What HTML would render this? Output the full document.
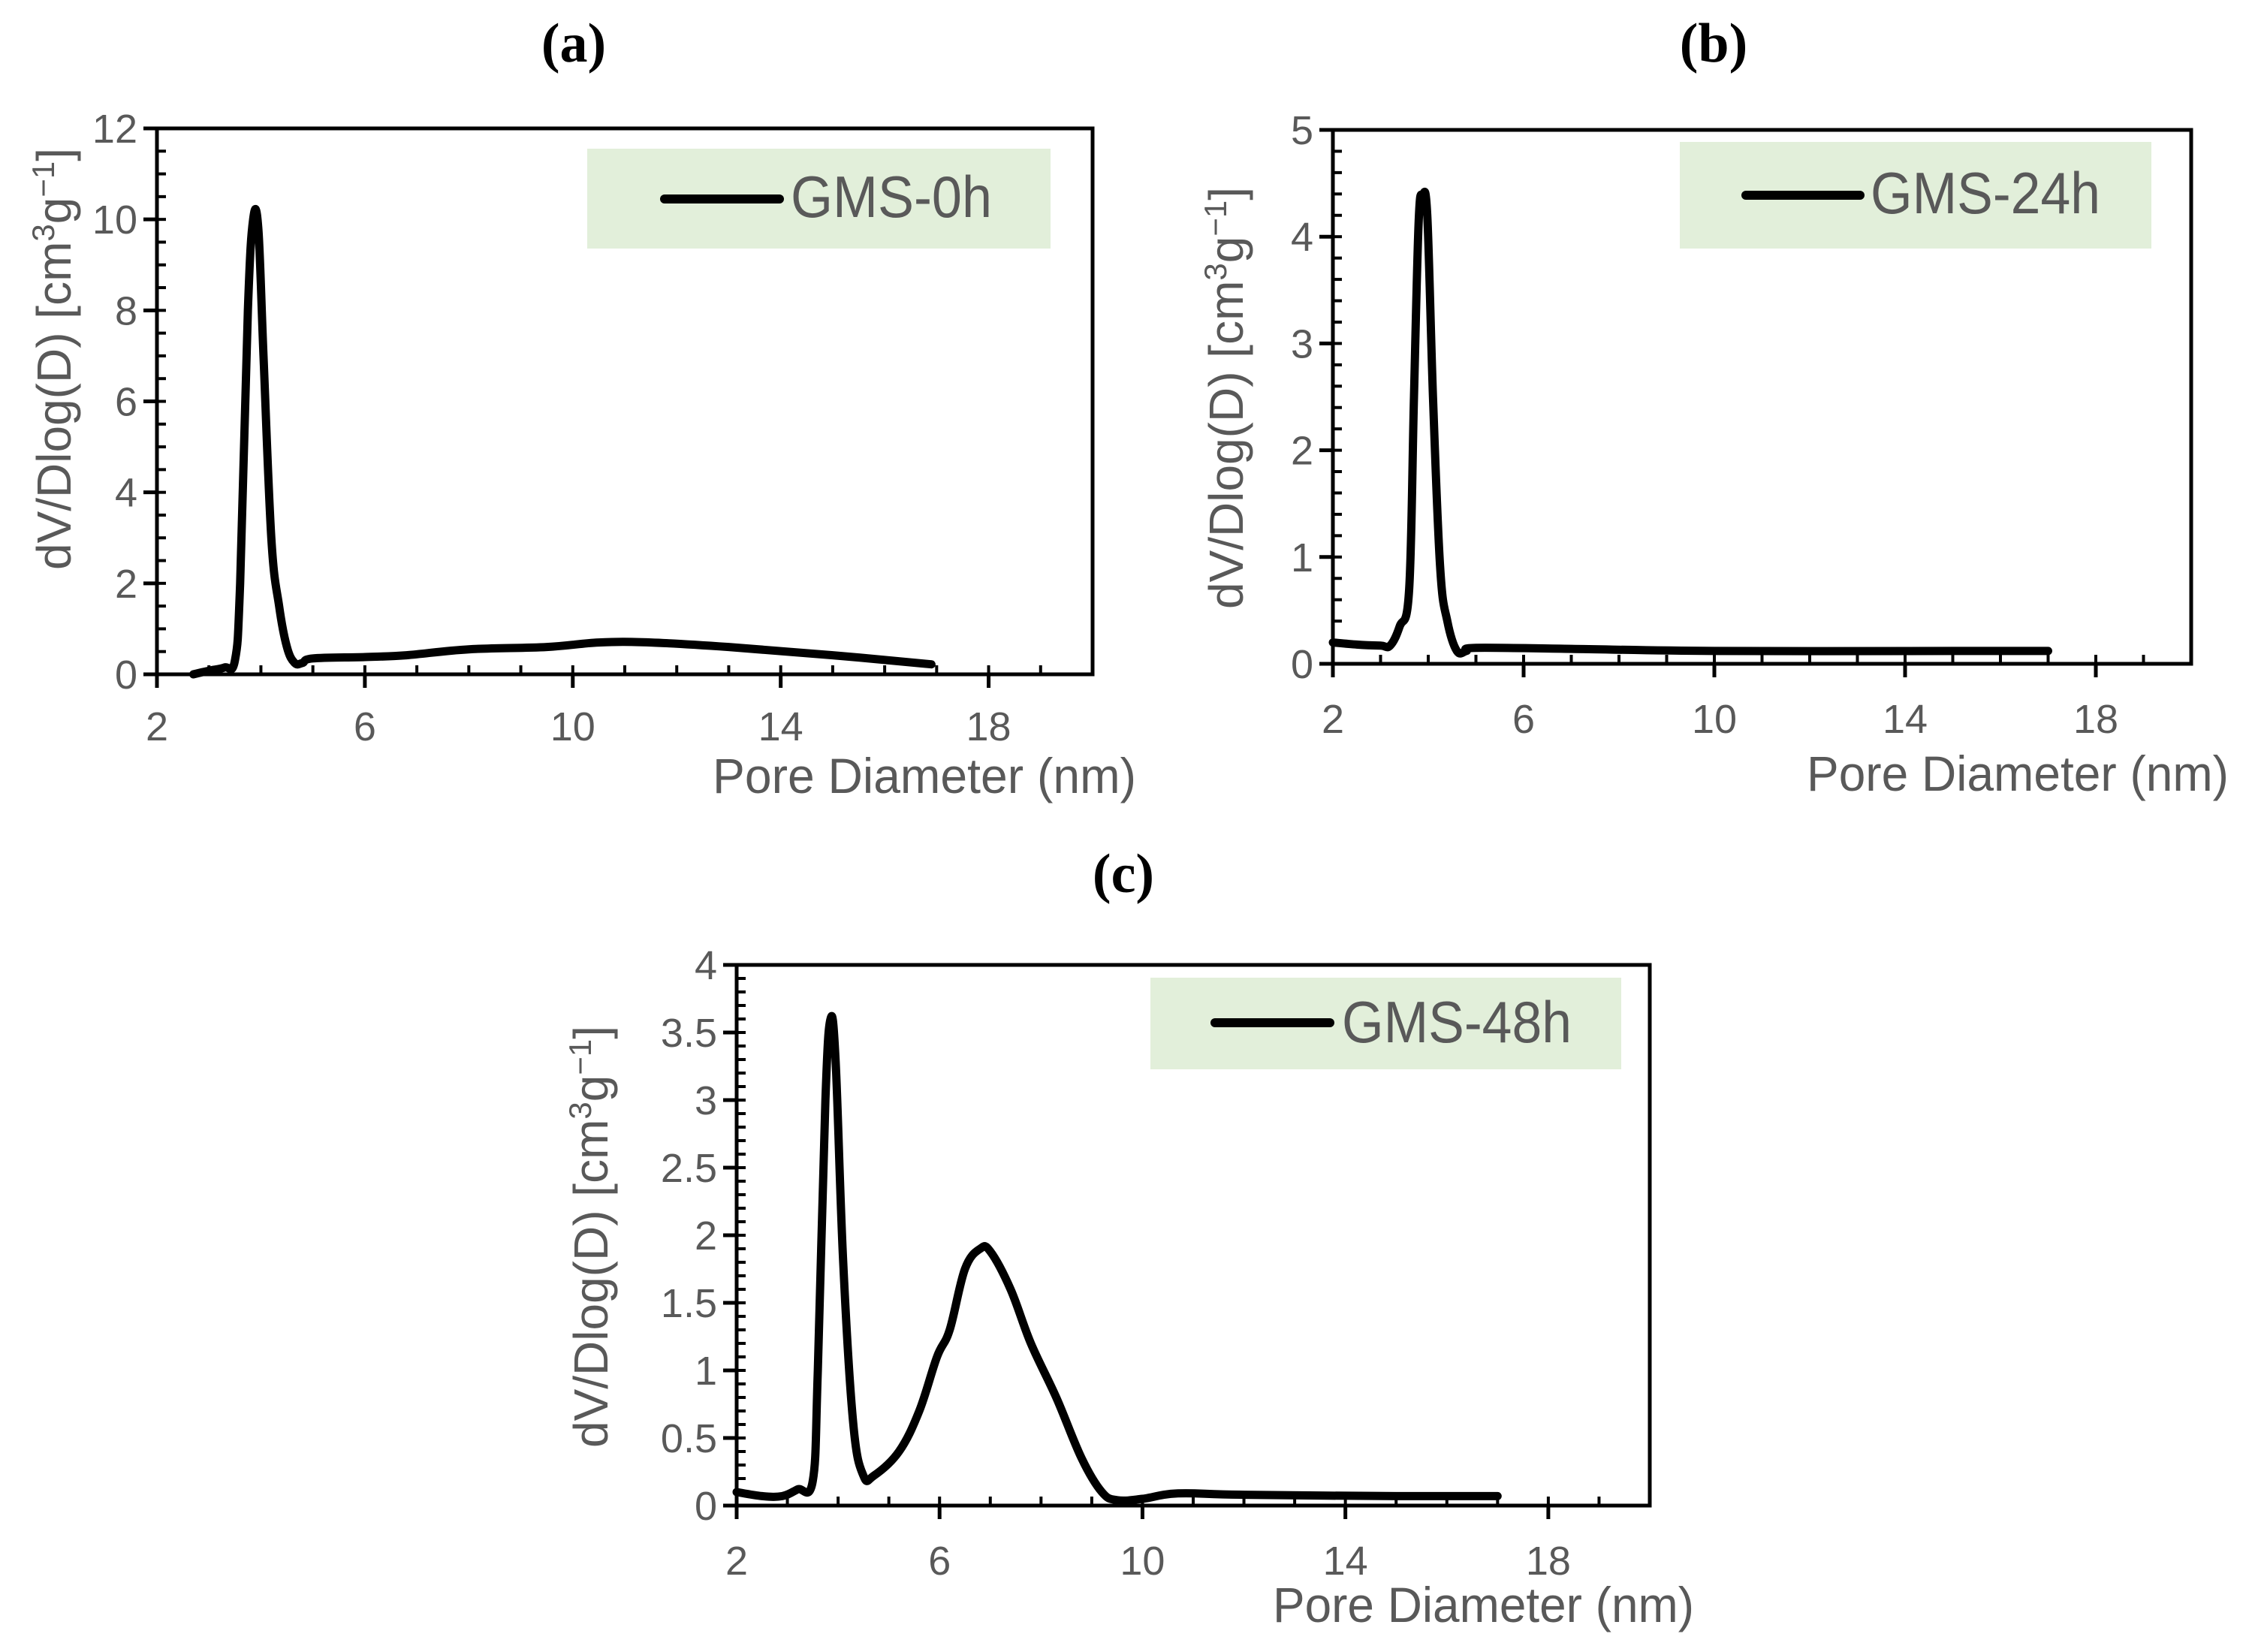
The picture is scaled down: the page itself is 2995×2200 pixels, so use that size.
<!DOCTYPE html>
<html><head><meta charset="utf-8">
<style>
html,body{margin:0;padding:0;background:#fff;}
svg{display:block;}
.tk{font-family:"Liberation Sans Narrow","Liberation Sans",sans-serif;fill:#595959;}
.pl{font-family:"Liberation Serif",serif;font-weight:bold;fill:#000;}
</style></head>
<body>
<svg id="fig" width="2995" height="2200" viewBox="0 0 2995 2200" xmlns="http://www.w3.org/2000/svg"></svg>
<script>
// ---- data ----
const xTicks = [2, 6, 10, 14, 18];
const aX = [2.7,3.0,3.3,3.5,3.6,3.75,3.85,3.95,4.05,4.2,4.35,4.5,4.65,4.8,5.0,6,6.8,8,9.5,10.5,11.5,13,15,16.9];
const aY = [0,0.08,0.15,0.3,2,8,10,9.8,7,3,1.5,0.6,0.25,0.25,0.35,0.38,0.42,0.55,0.6,0.7,0.7,0.6,0.42,0.22];
const aYTicks = [0,2,4,6,8,10,12];
const bX = [2,2.5,3.0,3.2,3.4,3.6,3.7,3.8,3.88,3.98,4.1,4.25,4.4,4.6,4.8,5,7,10,15,17];
const bY = [0.2,0.18,0.17,0.17,0.35,0.7,2.5,4.15,4.38,4.2,2.5,0.9,0.4,0.12,0.12,0.15,0.14,0.12,0.12,0.12];
const bYTicks = [0,1,2,3,4,5];
const cX = [2,2.5,2.9,3.2,3.5,3.6,3.75,3.85,3.95,4.1,4.3,4.5,4.7,5.2,5.6,5.95,6.2,6.5,6.8,7.0,7.4,7.8,8.3,8.8,9.2,9.5,10,10.7,12,15,17];
const cY = [0.1,0.07,0.07,0.12,0.18,1.0,3.0,3.6,3.3,1.8,0.6,0.22,0.22,0.4,0.7,1.1,1.3,1.75,1.9,1.88,1.6,1.2,0.8,0.35,0.1,0.04,0.05,0.09,0.08,0.07,0.07];
const cYTicks = [0,0.5,1,1.5,2,2.5,3,3.5,4];
const cYLabels = ['0','0.5','1','1.5','2','2.5','3','3.5','4'];

const NS = 'http://www.w3.org/2000/svg';
const svg = document.getElementById('fig');
function mk(tag, attrs, parent){
  const e = document.createElementNS(NS, tag);
  for (const k in attrs) e.setAttribute(k, attrs[k]);
  (parent||svg).appendChild(e);
  return e;
}
function txt(parent, s, attrs){ const t = mk('text', attrs, parent); t.textContent = s; return t; }
function smooth(pts){
  let d = 'M' + pts[0][0].toFixed(1) + ',' + pts[0][1].toFixed(1);
  const k = 0.18;
  for (let i = 0; i < pts.length - 1; i++) {
    const p0 = pts[Math.max(0, i-1)], p1 = pts[i], p2 = pts[i+1], p3 = pts[Math.min(pts.length-1, i+2)];
    const c1 = [p1[0] + (p2[0]-p0[0])*k, p1[1] + (p2[1]-p0[1])*k];
    const c2 = [p2[0] - (p3[0]-p1[0])*k, p2[1] - (p3[1]-p1[1])*k];
    d += 'C' + c1[0].toFixed(1) + ',' + c1[1].toFixed(1) + ' ' + c2[0].toFixed(1) + ',' + c2[1].toFixed(1) + ' ' + p2[0].toFixed(1) + ',' + p2[1].toFixed(1);
  }
  return d;
}

function panel(p){
  const g = mk('g', {});
  
  
  const xs = v => p.L + (v - 2) / 18 * (p.R - p.L);
  const ys = v => p.B - (v - 0) / p.yMax * (p.B - p.T);
  const lab = txt(g, '(' + p.id + ')', {x:p.labX, y:p.labY, 'text-anchor':'middle', class:'pl', 'font-size':74});
  
  
  const fr = mk('rect', {x:p.L, y:p.T, width:p.R-p.L, height:p.B-p.T, fill:'none', stroke:'#000', 'stroke-width':5}, g);
  
  
  for (let v = 0; v <= p.yMax + 1e-9; v += p.yMinor) {
    mk('line', {x1:p.L, x2:p.L+12, y1:ys(v), y2:ys(v), stroke:'#000', 'stroke-width':4}, g);
  }
  for (let v = 2; v <= 20; v += 1) {
    mk('line', {x1:xs(v), x2:xs(v), y1:p.B, y2:p.B-12, stroke:'#000', 'stroke-width':4}, g);
  }
  p.yTicks.forEach((v, i) => {
    mk('line', {x1:p.L-18, x2:p.L, y1:ys(v), y2:ys(v), stroke:'#000', 'stroke-width':5}, g);
    const t = txt(g, p.yLabels ? p.yLabels[i] : String(v), {x:p.L-26, y:ys(v)+19, 'text-anchor':'end', class:'tk', 'font-size':54});
    
    
  });
  xTicks.forEach(v => {
    mk('line', {x1:xs(v), x2:xs(v), y1:p.B, y2:p.B+18, stroke:'#000', 'stroke-width':5}, g);
    const t = txt(g, String(v), {x:xs(v), y:p.xLabY+4, 'text-anchor':'middle', class:'tk', 'font-size':54});
    
    
  });
  const xt = txt(g, 'Pore Diameter (nm)', {x:p.xtX, y:p.xtY, class:'tk', 'font-size':66, textLength:p.xtW, lengthAdjust:'spacingAndGlyphs'});
  
  
  const yt = mk('text', {x:0, y:0, class:'tk', 'font-size':64, 'text-anchor':'middle', transform:'translate(' + (p.ytX+22) + ',' + p.ytY + ') rotate(-90)'}, g);
  
  
  yt.innerHTML = 'dV/Dlog(D) [cm<tspan dy="-22" font-size="42">3</tspan><tspan dy="22">g</tspan><tspan dy="-22" font-size="42">−1</tspan><tspan dy="22">]</tspan>';
  const pts = p.xs.map((v, i) => [xs(v), ys(p.ys[i])]);
  const path = mk('path', {d:smooth(pts), fill:'none', stroke:'#000', 'stroke-width':11, 'stroke-linejoin':'round', 'stroke-linecap':'round'}, g);
  
  
  const lg = mk('g', {}, g);
  
  
  mk('rect', {x:p.lg[0], y:p.lg[1], width:p.lg[2]-p.lg[0], height:p.lg[3]-p.lg[1], fill:'#e2efda'}, lg);
  mk('line', {x1:p.lgL[0], x2:p.lgL[1], y1:p.lgL[2], y2:p.lgL[2], stroke:'#000', 'stroke-width':12, 'stroke-linecap':'round'}, lg);
  const lt = txt(lg, p.name, {x:p.lgT[0], y:p.lgT[1], class:'tk', 'font-size':78, textLength:p.lgT[2], lengthAdjust:'spacingAndGlyphs'});
  
  
}

panel({id:'a', name:'GMS-0h', L:209, R:1455, T:171, B:898, yMax:12, yMinor:0.5, yTicks:aYTicks, xs:aX, ys:aY,
  labX:764, labY:82, xLabY:982, xtX:949, xtY:1056, xtW:564, ytX:72, ytY:478,
  lg:[782,198,1399,331], lgL:[885,1038,265], lgT:[1053,289,268]});
panel({id:'b', name:'GMS-24h', L:1775, R:2918, T:173, B:884, yMax:5, yMinor:0.2, yTicks:bYTicks, xs:bX, ys:bY,
  labX:2282, labY:82, xLabY:972, xtX:2406, xtY:1053, xtW:562, ytX:1633, ytY:530,
  lg:[2237,189,2865,331], lgL:[2325,2477,260], lgT:[2491,284,306]});
panel({id:'c', name:'GMS-48h', L:981, R:2197, T:1285, B:2005, yMax:4, yMinor:0.1, yTicks:cYTicks, yLabels:cYLabels, xs:cX, ys:cY,
  labX:1496, labY:1188, xLabY:2093, xtX:1695, xtY:2160, xtW:561, ytX:787, ytY:1647,
  lg:[1532,1302,2159,1424], lgL:[1618,1771,1362], lgT:[1787,1388,306]});
</script>
</body></html>
